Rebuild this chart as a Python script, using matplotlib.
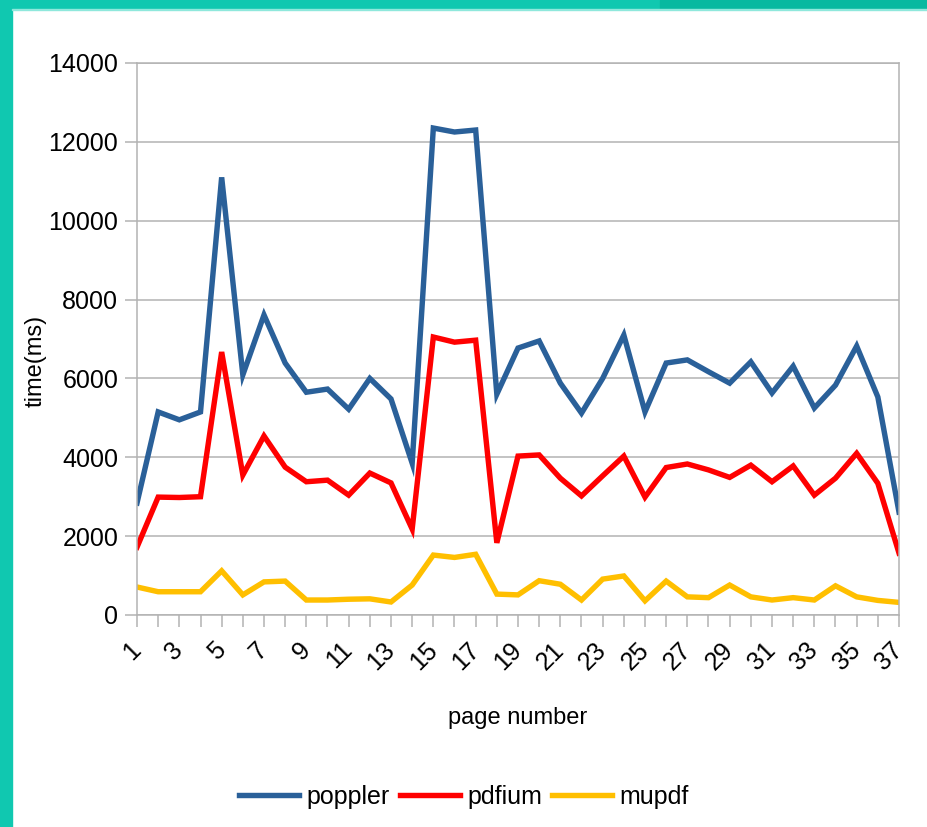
import numpy as np
import matplotlib; matplotlib.use('Agg')
import matplotlib.pyplot as plt
from matplotlib.patches import Rectangle

plt.rcParams['font.family'] = ['Liberation Sans', 'DejaVu Sans']

pages = list(range(1, 38))
poppler = [2840, 5150, 4950, 5150, 11100, 6090, 7610, 6390, 5650, 5730,
           5220, 6000, 5480, 3850, 12350, 12250, 12300, 5600, 6770, 6950,
           5880, 5120, 6000, 7100, 5150, 6390, 6470, 6170, 5880, 6420,
           5630, 6310, 5250, 5830, 6820, 5530, 2610]
pdfium = [1720, 2990, 2980, 3000, 6670, 3550, 4540, 3750, 3380, 3420,
          3040, 3600, 3350, 2180, 7050, 6920, 6970, 1830, 4030, 4060,
          3470, 3020, 3530, 4030, 2990, 3740, 3830, 3680, 3490, 3800,
          3380, 3780, 3040, 3470, 4100, 3340, 1570]
mupdf = [710, 590, 590, 590, 1120, 510, 840, 860, 380, 380,
         400, 410, 330, 760, 1520, 1460, 1540, 530, 510, 870,
         780, 380, 910, 990, 360, 860, 460, 440, 760, 460,
         380, 440, 380, 740, 460, 370, 320]
series = [('poppler', poppler, '#2a6099'),
          ('pdfium', pdfium, '#ff0000'),
          ('mupdf', mupdf, '#ffbf00')]

fig = plt.figure(figsize=(9.28, 8.27), dpi=100)
ax = fig.add_axes([137/928, 1-615/827, 762/928, 552/827])

for name, vals, col in series:
    ax.plot(pages, vals, color=col, lw=3.9, label=name, solid_joinstyle='miter')

ax.set_xlim(1, 37); ax.set_ylim(0, 14000)
ax.set_yticks(range(0, 14001, 2000))
ax.set_xticks(pages)
ax.set_xticklabels([str(p) if p % 2 else '' for p in pages], rotation=45,
                   ha='right', va='center', rotation_mode='anchor')
ax.tick_params(axis='both', length=8.5, width=1.1, color='#b3b3b3', labelsize=18)
ax.tick_params(axis='x', pad=14)
ax.tick_params(axis='y', pad=5)
ax.grid(axis='y', color='#b3b3b3', lw=1.1)
ax.set_axisbelow(True)
for s in ax.spines.values():
    s.set_color('#b3b3b3'); s.set_linewidth(1.1)

ax.set_xlabel('page number', fontsize=17)
ax.xaxis.set_label_coords(0.5, -0.167)
ax.set_ylabel('time(ms)', fontsize=17)
ax.yaxis.set_label_coords(-0.119, 0.46)

fig.legend(loc='center', bbox_to_anchor=(0.5, 0.036), ncol=3, frameon=False,
           fontsize=18, handlelength=2.4, handletextpad=0.3, columnspacing=0.4)

# teal frame round the slide
fig.patches.append(Rectangle((0, 0), 12/928, 1, transform=fig.transFigure, color='#10c8b0', zorder=5))
fig.patches.append(Rectangle((0, 1-9/827), 660/928, 9/827, transform=fig.transFigure, color='#10c8b0', zorder=5))
fig.patches.append(Rectangle((660/928, 1-9/827), 1, 9/827, transform=fig.transFigure, color='#08b9a0', zorder=5))
fig.patches.append(Rectangle((12/928, 1-10/827), 1, 1.2/827, transform=fig.transFigure, color='#8fe8dc', zorder=5))

plt.savefig('out.png', dpi=100)
